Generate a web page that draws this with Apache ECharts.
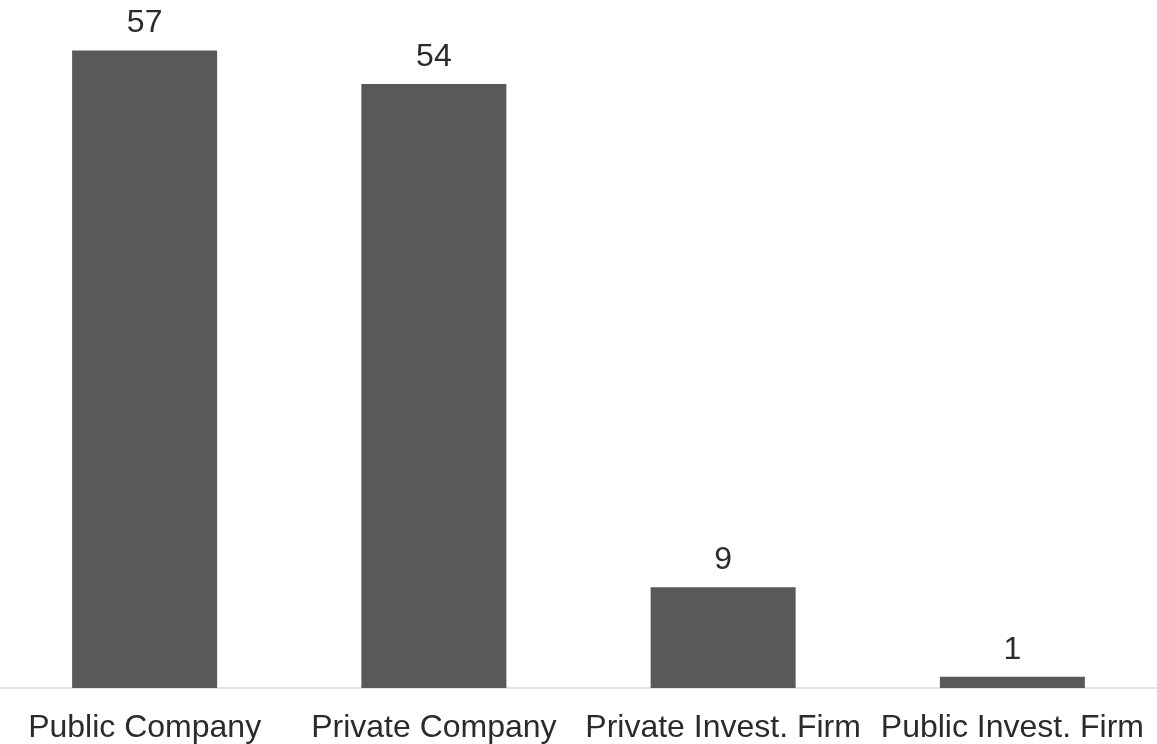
<!DOCTYPE html>
<html>
<head>
<meta charset="utf-8">
<script src="https://cdn.jsdelivr.net/npm/echarts@6/dist/echarts.min.js"></script>
<style>html,body{margin:0;padding:0;background:#fff}#c{width:1157px;height:744px}</style>
</head>
<body>
<div id="c"></div>
<script>
const categories = ["Public Company", "Private Company", "Private Invest. Firm", "Public Invest. Firm"];
const counts = [57, 54, 9, 1];

const chart = echarts.init(document.getElementById('c'), null, {renderer: 'canvas'});
chart.setOption({
  animation: false,
  backgroundColor: '#ffffff',
  grid: {left: 0, right: -3, top: 17, bottom: 55.3, containLabel: false},
  xAxis: {
    type: 'category',
    data: categories,
    axisLine: {show: true, lineStyle: {color: '#d9d9d9', width: 1.5}},
    axisTick: {show: false},
    axisLabel: {color: '#2b2b2b', fontSize: 32, fontFamily: 'Liberation Sans, Arial, sans-serif', margin: 24, interval: 0}
  },
  yAxis: {
    type: 'value', min: 0, max: 60, show: false,
    splitLine: {show: false}
  },
  series: [{
    type: 'bar',
    data: counts,
    barWidth: 145,
    itemStyle: {color: '#595959'},
    label: {show: true, position: 'top', distance: 11, color: '#2b2b2b', fontSize: 32, fontFamily: 'Liberation Sans, Arial, sans-serif'}
  }]
});
</script>
</body>
</html>
